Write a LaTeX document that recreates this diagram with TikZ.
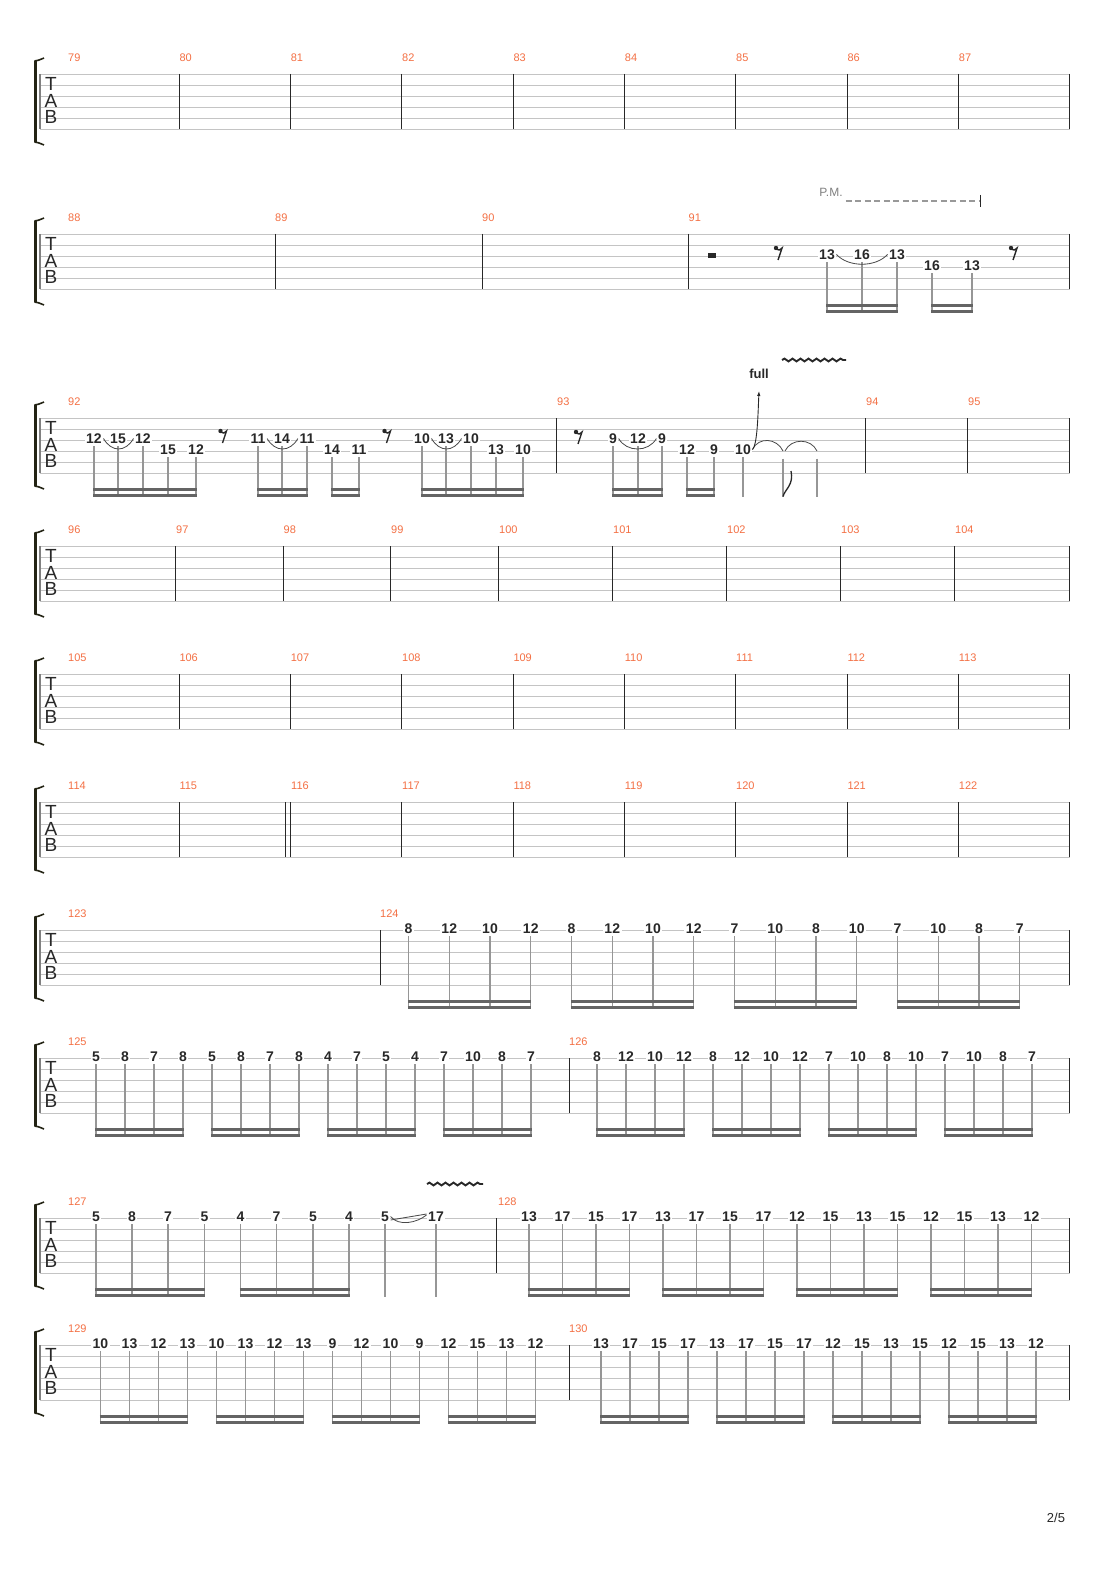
\documentclass[tikz,border=0pt]{standalone}
\usepackage{fontspec}
\setmainfont{Liberation Sans}
\usetikzlibrary{arrows.meta,decorations.pathmorphing}

\definecolor{barnum}{RGB}{244,112,68}
\definecolor{staffgray}{RGB}{196,196,196}
\definecolor{stemgray}{RGB}{150,150,150}
\definecolor{beamgray}{RGB}{100,100,100}
\definecolor{inkdark}{RGB}{40,40,40}
\definecolor{bracketink}{RGB}{35,35,20}

\tikzset{
  staffline/.style={staffgray, line width=0.9pt},
  staffedge/.style={gray, line width=1.4pt},
  barline/.style={inkdark, line width=1.1pt},
  bracket/.style={bracketink, line width=3pt},
  tabletter/.style={inner sep=0pt, text=inkdark, font=\fontsize{19}{19}\selectfont},
  barno/.style={anchor=west, inner sep=0pt, text=barnum, font=\fontsize{11}{11}\selectfont},
  fret/.style={fill=white, inner xsep=1.5pt, inner ysep=0.8pt, text height=10pt, text depth=0pt,
    yshift=1.5pt, text=inkdark, font=\fontsize{14}{14}\selectfont\bfseries},
  stem/.style={stemgray, line width=1.1pt, shorten <=1.5pt},
  beam/.style={beamgray, line width=2.6pt, shorten <=-0.6pt, shorten >=-0.6pt},
  slur/.style={inkdark!85, line width=0.8pt},
  vibrato/.style={inkdark, line width=1.9pt, decorate, decoration={snake, amplitude=1.4pt, segment length=8pt}},
  pmtext/.style={inner sep=0pt, text=gray, font=\fontsize{12}{12}\selectfont},
  pmline/.style={gray!80, line width=1.3pt, dash pattern=on 6pt off 3.5pt, shorten <=3pt},
  bendlabel/.style={inner sep=0pt, text=inkdark, font=\fontsize{13}{13}\selectfont\bfseries},
}

% one empty tab staff: #1 name, #2 top line
\newcommand{\tabsystem}[2]{%
  \foreach \s in {0,...,5}
    \draw[staffline] (40,{#2+11*\s}) -- (1070,{#2+11*\s});
  \draw[staffedge] (40,#2) -- (40,{#2+55});
  \draw[bracket] (35.5,{#2-13}) -- (35.5,{#2+68});
  \draw[bracket, line width=1.6pt] (34.5,{#2-13}) .. controls (38,{#2-13.5}) .. (44,{#2-16});
  \draw[bracket, line width=1.6pt] (34.5,{#2+68}) .. controls (38,{#2+68.5}) .. (44,{#2+71});
  \node[tabletter] (T#1) at (51,{#2+10}) {T};
  \node[tabletter] (A#1) at (51,{#2+26.5}) {A};
  \node[tabletter] (B#1) at (51,{#2+42.5}) {B};
  \draw[barline] (1069.5,#2) -- (1069.5,{#2+55});
}

% measure numbers and barlines: #1 top, #2 number/x, #3 barline x
\newcommand{\barrow}[3]{%
  \foreach \n/\x in {#2}
    \node[barno] (bar\n) at (\x,{#1-16}) {\n};
  \foreach \x in {#3}
    \draw[barline] (\x,#1) -- (\x,{#1+55});
}

% double beam between two stems
\newcommand{\beampair}[3]{%
  \pgfmathsetmacro{\beamy}{#3+71.2}
  \pgfmathsetmacro{\beamz}{#3+77.2}
  \draw[beam] (#1 |- 0,\beamy) -- (#2 |- 0,\beamy);
  \draw[beam] (#1 |- 0,\beamz) -- (#2 |- 0,\beamz);
}

% sixteen notes on the top string: #1 measure, #2 first x, #3 step, #4 top, #5 frets
\newcommand{\sixteenths}[5]{%
  \pgfmathsetmacro{\stemend}{#4+78.5}
  \foreach \f [count=\i from 0] in {#5}
    \node[fret] (m#1n\i) at ({#2+#3*\i},#4) {\f};
  \foreach \i in {0,...,15}
    \draw[stem] (m#1n\i.south) -- (m#1n\i |- 0,\stemend);
  \foreach \k in {0,4,8,12}{
    \pgfmathtruncatemacro{\lastn}{\k+3}
    \beampair{m#1n\k}{m#1n\lastn}{#4}
  }
}

% eighth rest, dot at (#1,#2)
\newcommand{\eighthrest}[2]{%
  \fill[inkdark] (#1,#2) circle[radius=2.2pt];
  \draw[inkdark, line width=1.4pt] (#1,{#2+1}) .. controls ({#1+3},{#2+2.5}) .. ({#1+6},{#2}) -- ({#1+2},{#2+12});
}

\begin{document}
\begin{tikzpicture}[x=1pt,y=-1pt]
\fill[white] (0,0) rectangle (1110,1570);
\useasboundingbox (0,0) rectangle (1110,1570);

% staves
\tabsystem{1}{74}
\tabsystem{2}{234}
\tabsystem{3}{418}
\tabsystem{4}{546}
\tabsystem{5}{674}
\tabsystem{6}{802}
\tabsystem{7}{930}
\tabsystem{8}{1058}
\tabsystem{9}{1218}
\tabsystem{10}{1345}

\barrow{74}{79/68,80/179.3,81/290.6,82/402,83/513.3,84/624.7,85/736,86/847.3,87/958.7}
  {179.5,290.5,401.5,513.5,624.5,735.5,847.5,958.5}
\barrow{234}{88/68,89/275,90/482,91/688.5}{275.5,482.5,688.5}
\barrow{418}{92/68,93/557,94/866,95/968}{556.5,865.5,967.5}
\barrow{546}{96/68,97/176,98/283.5,99/391,100/499,101/613,102/727,103/841,104/955}
  {175.5,283.5,390.5,498.5,612.5,726.5,840.5,954.5}
\barrow{674}{105/68,106/179.3,107/290.6,108/402,109/513.3,110/624.7,111/736,112/847.3,113/958.7}
  {179.5,290.5,401.5,513.5,624.5,735.5,847.5,958.5}
\barrow{802}{114/68,115/179.3,116/291,117/402,118/513.3,119/624.7,120/736,121/847.3,122/958.7}
  {179.5,285.5,290.5,401.5,513.5,624.5,735.5,847.5,958.5}
\barrow{930}{123/68,124/380}{380.5}
\barrow{1058}{125/68,126/569}{569.5}
\barrow{1218}{127/68,128/498}{496.5}
\barrow{1345}{129/68,130/569}{569.5}

% measure 91
\fill[inkdark] (707.5,253) rectangle (716,257.5);
\eighthrest{776}{248}
\eighthrest{1011}{248}
\foreach \x/\s/\f [count=\i] in {827/3/13,862/3/16,897/3/13,932/4/16,972/4/13}
  \node[fret] (m91n\i) at (\x,{223+11*\s}) {\f};
\foreach \i in {1,...,5}
  \draw[stem] (m91n\i.south) -- (m91n\i |- 0,312.5);
\beampair{m91n1}{m91n3}{234}
\beampair{m91n4}{m91n5}{234}
\draw[slur] (m91n1.east) .. controls +(12,13) and +(-12,13) .. (m91n3.west);
\node[pmtext] (pm) at (831,192) {P.M.};
\coordinate (pmend) at (980,201);
\draw[pmline] (pm.east |- pmend) -- (pmend);
\draw[inkdark, line width=1pt] ([yshift=6pt]pmend) -- ([yshift=-6pt]pmend);

% measure 92
\foreach \x/\s/\f [count=\i] in {94/3/12,118/3/15,143/3/12,168/4/15,196/4/12,258/3/11,282/3/14,307/3/11,
    332/4/14,359/4/11,422/3/10,446/3/13,471/3/10,496/4/13,523/4/10}
  \node[fret] (m92n\i) at (\x,{407+11*\s}) {\f};
\foreach \i in {1,...,15}
  \draw[stem] (m92n\i.south) -- (m92n\i |- 0,496.5);
\beampair{m92n1}{m92n5}{418}
\beampair{m92n6}{m92n8}{418}
\beampair{m92n9}{m92n10}{418}
\beampair{m92n11}{m92n15}{418}
\foreach \a/\b in {1/3,6/8,11/13}
  \draw[slur] (m92n\a.east) .. controls +(8,14) and +(-8,14) .. (m92n\b.west);
\eighthrest{220.5}{431}
\eighthrest{384.5}{431}

% measure 93
\eighthrest{576}{432}
\foreach \x/\s/\f [count=\i] in {613/3/9,638/3/12,662/3/9,687/4/12,714/4/9,743/4/10}
  \node[fret] (m93n\i) at (\x,{407+11*\s}) {\f};
\coordinate (m93n7) at (783,451);
\coordinate (m93n8) at (817,451);
\foreach \i in {1,...,6}
  \draw[stem] (m93n\i.south) -- (m93n\i |- 0,496.5);
\foreach \i in {7,8}
  \draw[stem] ([yshift=-6pt]m93n\i) -- (m93n\i |- 0,496.5);
\draw[inkdark, line width=1.3pt] (783,496.5) .. controls (785,489) and (794,485) .. (791,471);
\beampair{m93n1}{m93n3}{418}
\beampair{m93n4}{m93n5}{418}
\draw[slur] (m93n1.east) .. controls +(8,14) and +(-8,14) .. (m93n3.west);
\draw[slur] (m93n6.east) .. controls +(6,-13) and +(-6,-13) .. (m93n7);
\draw[slur] ([xshift=2pt]m93n7) .. controls +(6,-13) and +(-6,-13) .. (m93n8);
\node[bendlabel] (full) at (759,374) {full};
\coordinate (bendtop) at (759,391);
\draw[inkdark, line width=0.9pt, -{Latex[length=5pt,width=3.5pt]}]
  (m93n6.east) .. controls +(5,-5) and +(-1,22) .. (bendtop);
\coordinate (vib93a) at (782,360);
\coordinate (vib93b) at (846,360);
\draw[vibrato] (vib93a) -- (vib93b);

% measures 124 to 126
\sixteenths{124}{408.5}{40.75}{930}{8,12,10,12,8,12,10,12,7,10,8,10,7,10,8,7}
\sixteenths{125}{96}{29}{1058}{5,8,7,8,5,8,7,8,4,7,5,4,7,10,8,7}
\sixteenths{126}{597}{29}{1058}{8,12,10,12,8,12,10,12,7,10,8,10,7,10,8,7}

% measure 127
\foreach \x/\f [count=\i from 0] in {96/5,132/8,168/7,204.5/5,240.5/4,276.5/7,313/5,349/4,385/5,436/17}
  \node[fret] (m127n\i) at (\x,1218) {\f};
\foreach \i in {0,...,9}
  \draw[stem] (m127n\i.south) -- (m127n\i |- 0,1296.5);
\beampair{m127n0}{m127n3}{1218}
\beampair{m127n4}{m127n7}{1218}
\draw[slur] ([yshift=-3.5pt]m127n8.east) -- ([yshift=2.5pt]m127n9.west);
\draw[slur] (m127n8.east) .. controls +(8,10) and +(-10,8) .. ([yshift=1.5pt]m127n9.west);
\coordinate (vib127a) at (427,1184);
\coordinate (vib127b) at (483,1184);
\draw[vibrato] (vib127a) -- (vib127b);

% measures 128 to 130
\sixteenths{128}{529}{33.5}{1218}{13,17,15,17,13,17,15,17,12,15,13,15,12,15,13,12}
\sixteenths{129}{100.5}{29}{1345}{10,13,12,13,10,13,12,13,9,12,10,9,12,15,13,12}
\sixteenths{130}{601}{29}{1345}{13,17,15,17,13,17,15,17,12,15,13,15,12,15,13,12}

\node[inner sep=0pt, text=inkdark, font=\fontsize{13}{13}\selectfont] (page) at (1056,1518) {2/5};
\end{tikzpicture}
\end{document}
